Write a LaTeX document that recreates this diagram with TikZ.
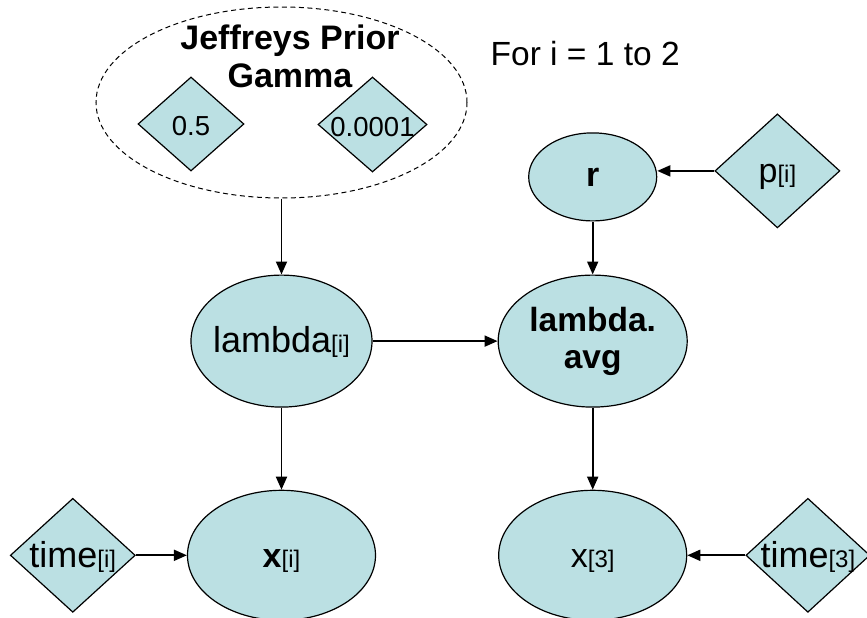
\documentclass[tikz,border=0pt]{standalone}
\usepackage{fontspec}
\setmainfont{Liberation Sans}
\usepackage{tikz}
\usetikzlibrary{positioning,arrows.meta,shapes.geometric}
\definecolor{nodefill}{HTML}{BBE0E3}
\newcommand{\idx}[1]{{\fontsize{24}{24}\selectfont #1}}
\newcommand{\nowidth}[1]{\makebox[0pt]{#1}}
\tikzset{
  stoch/.style    = {ellipse, draw, line width=1.2pt, fill=nodefill, inner sep=0pt,
                     minimum width=188pt, minimum height=130pt, font=\fontsize{34}{37}\selectfont,
                     text height=30.5pt, text depth=7pt},
  const/.style    = {diamond, draw, line width=1.2pt, fill=nodefill, inner sep=0pt,
                     minimum width=125pt, minimum height=114pt, font=\fontsize{34}{37}\selectfont,
                     text height=30.5pt, text depth=7pt},
  cval/.style     = {const, font=\fontsize{27.5}{30}\selectfont},
  wide/.style     = {font=\fontsize{36}{39}\selectfont},
  group/.style    = {ellipse, draw, line width=1pt, dash pattern=on 5pt off 3.5pt,
                     minimum width=371pt, minimum height=191pt, inner sep=0pt},
  priorlbl/.style = {align=center, inner sep=0pt, font=\bfseries\fontsize{34}{38}\selectfont},
  looplbl/.style  = {inner sep=0pt, font=\fontsize{33.5}{37}\selectfont},
  arrow/.style    = {-{Triangle[length=13pt,width=11pt]}, line width=1.8pt},
}
\begin{document}
\begin{tikzpicture}[x=1pt, y=1pt, node distance=82pt and 51pt]
  \useasboundingbox (-281.5,-515.5) rectangle (585.5,102.5);
  % prior group
  \node[group] (prior) at (0,0) {};
  \node[priorlbl] (prior-lbl) at (8.5,46) {Jeffreys Prior\\Gamma};
  \node[cval, minimum width=106pt, minimum height=94pt] (shape) at (-90.5,-21.5) {0.5};
  \node[cval, minimum width=109pt, minimum height=95pt] (rate) at (91,-22) {\nowidth{0.0001}};
  \node[looplbl, anchor=base west] (loop) at (209,36.5) {For i = 1 to 2};
  % model nodes
  \node[stoch, wide, below=76pt of prior, minimum width=181pt, minimum height=132pt] (lam) {\nowidth{lambda\idx{[i]}}};
  \node[stoch, below=of lam] (xi) {\textbf{x}\idx{[i]}};
  \node[const, wide, left=of xi] (ti) {\nowidth{time\idx{[i]}}};
  \node[stoch, right=125pt of lam, minimum width=189pt, minimum height=132pt, align=center,
        text height={}, text depth={}, font=\bfseries\fontsize{33.5}{37}\selectfont] (avg) {lambda.\\avg};
  \node[stoch, above=53pt of avg, minimum width=128pt, minimum height=88pt,
        text height={}, text depth={}, font=\bfseries\fontsize{34}{37}\selectfont] (r) {r};
  \node[const, right=57pt of r, yshift=6pt] (p) {p\idx{[i]}};
  \node[stoch, below=of avg] (x3) {x\idx{[3]}};
  \node[const, wide, right=58pt of x3, minimum width=124pt] (t3) {\nowidth{time\idx{[3]}}};
  % edges
  \draw[arrow] (prior) -- (lam);
  \draw[arrow] (lam) -- (xi);
  \draw[arrow] (lam) -- (avg);
  \draw[arrow] (p.west) -- (p.west -| r.east);
  \draw[arrow] (r) -- (avg);
  \draw[arrow] (avg) -- (x3);
  \draw[arrow] (ti) -- (xi);
  \draw[arrow] (t3) -- (x3);
\end{tikzpicture}
\end{document}
